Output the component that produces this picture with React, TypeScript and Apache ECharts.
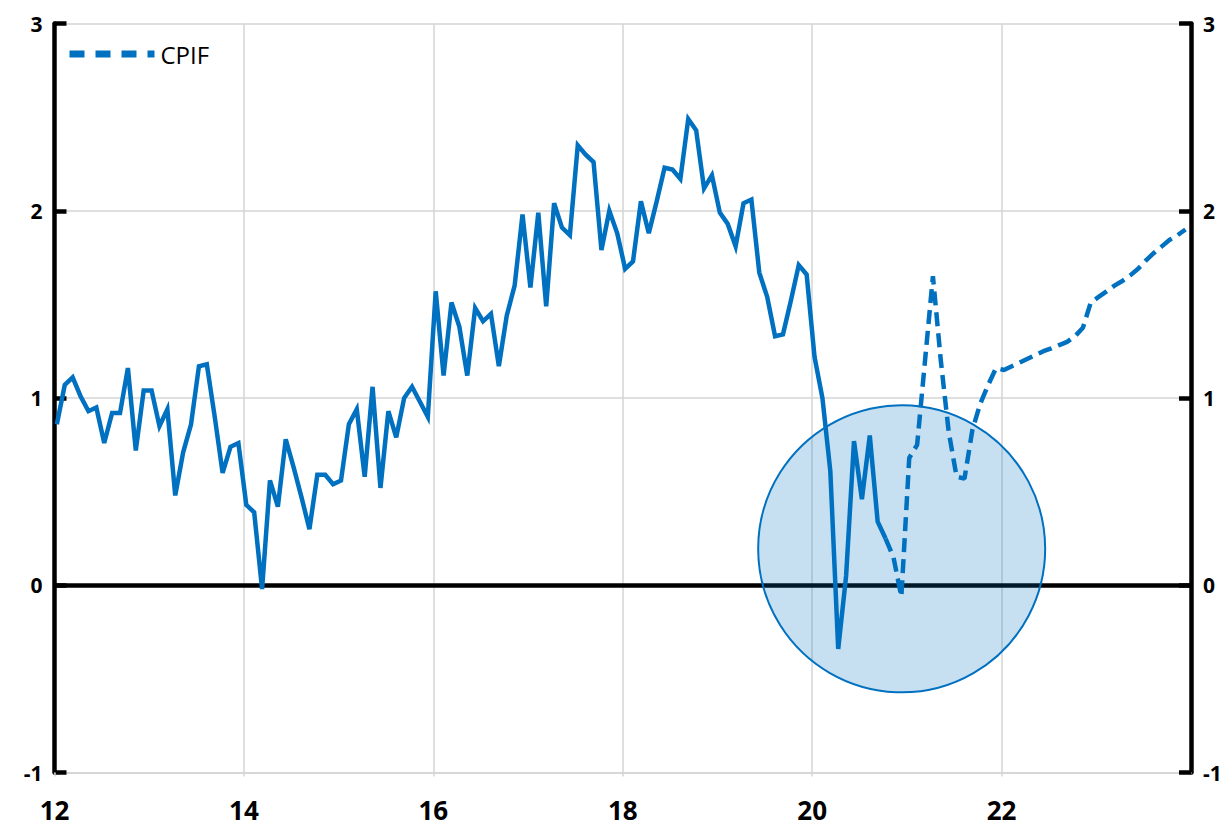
import { useEffect, useRef } from "react";
import * as echarts from "echarts";

// Two-digit year where the x axis starts (2012) and where a monthly observation sits within its month
const FIRST_YEAR = 12;
const MONTH_POS = 0.3;

// CPIF outcome, monthly, Jan 2012 - Oct 2020 (annual % change)
const cpif2012 = [0.86, 1.07, 1.11, 1.01, 0.93, 0.95, 0.76, 0.92, 0.92, 1.16, 0.72, 1.04];
const cpif2013 = [1.04, 0.85, 0.94, 0.48, 0.71, 0.86, 1.17, 1.18, 0.9, 0.6, 0.74, 0.76];
const cpif2014 = [0.43, 0.39, -0.02, 0.56, 0.42, 0.78, 0.63, 0.47, 0.3, 0.59, 0.59, 0.54];
const cpif2015 = [0.56, 0.86, 0.94, 0.58, 1.06, 0.52, 0.93, 0.79, 1.0, 1.06, 0.98, 0.9];
const cpif2016 = [1.57, 1.12, 1.51, 1.38, 1.12, 1.48, 1.41, 1.45, 1.17, 1.44, 1.6, 1.98];
const cpif2017 = [1.59, 1.99, 1.49, 2.04, 1.91, 1.87, 2.35, 2.3, 2.26, 1.79, 2.0, 1.88];
const cpif2018 = [1.69, 1.73, 2.05, 1.88, 2.05, 2.23, 2.22, 2.17, 2.49, 2.43, 2.12, 2.19];
const cpif2019 = [1.99, 1.93, 1.81, 2.04, 2.06, 1.67, 1.54, 1.33, 1.34, 1.52, 1.71, 1.66];
const cpif2020 = [1.22, 1.0, 0.61, -0.34, 0.05, 0.77, 0.46, 0.8, 0.34, 0.25];

// CPIF forecast, monthly, Oct 2020 - Dec 2023
const forecast2020 = [0.25, 0.15, -0.06];
const forecast2021 = [0.68, 0.75, 1.2, 1.65, 1.2, 0.82, 0.58, 0.57, 0.83, 0.97, 1.07, 1.16];
const forecast2022 = [1.15, 1.17, 1.19, 1.21, 1.23, 1.25, 1.265, 1.283, 1.3, 1.33, 1.375, 1.51];
const forecast2023 = [1.54, 1.57, 1.6, 1.625, 1.655, 1.69, 1.735, 1.775, 1.81, 1.845, 1.87, 1.9];
const FORECAST_START_MONTH = 105; // Oct 2020, months after Jan 2012

// Highlighted region (centre in axis units)
const highlightCenter = [20.945, 0.195];

const xMin = 12;
const xMax = 24;
const xStep = 2;
const yMin = -1;
const yMax = 3;
const yStep = 1;

const FONT = "'Open Sans', 'Liberation Sans', sans-serif";
const BLUE = "#0070C0";
const GRID_GREY = "#d4d4d4";

function monthX(i: number) {
  return FIRST_YEAR + (i + MONTH_POS) / 12;
}

export default function App() {
  const ref = useRef<HTMLDivElement | null>(null);

  useEffect(() => {
    if (!ref.current) return;
    const chart = echarts.init(ref.current, undefined, { renderer: "svg" });

    const outcome = [
      ...cpif2012, ...cpif2013, ...cpif2014, ...cpif2015, ...cpif2016,
      ...cpif2017, ...cpif2018, ...cpif2019, ...cpif2020,
    ].map((v, i) => [monthX(i), v]);
    const forecast = [...forecast2020, ...forecast2021, ...forecast2022, ...forecast2023].map(
      (v, i) => [monthX(FORECAST_START_MONTH + i), v]
    );

    const yAxisBase = {
      type: "value",
      min: yMin,
      max: yMax,
      interval: yStep,
      axisLine: { show: true, onZero: false, lineStyle: { color: "#000", width: 4.5 } },
      axisTick: { show: true, inside: true, length: 12, lineStyle: { color: "#000", width: 4.5 } },
      axisLabel: { fontSize: 21, fontWeight: "bold", color: "#000", margin: 12, fontFamily: FONT },
    };

    chart.setOption({
      animation: false,
      backgroundColor: "#fff",
      textStyle: { fontFamily: FONT },
      grid: { left: 54.5, right: 38, top: 23.5, bottom: 54.4, containLabel: false },
      legend: {
        data: ["CPIF"],
        left: 61,
        top: 37,
        itemWidth: 85,
        itemHeight: 14,
        itemStyle: { opacity: 0 },
        textStyle: { fontSize: 24, color: "#000", fontFamily: FONT, padding: [0, 0, 0, 1] },
        lineStyle: { width: 7, type: [15, 11], cap: "butt" },
      },
      xAxis: {
        type: "value",
        min: xMin,
        max: xMax,
        interval: xStep,
        axisLine: { show: true, onZero: false, lineStyle: { color: GRID_GREY, width: 1.5 } },
        axisTick: { show: true, length: 4, lineStyle: { color: GRID_GREY, width: 1.5 } },
        axisLabel: {
          showMaxLabel: false,
          fontSize: 26,
          fontWeight: "bold",
          color: "#000",
          margin: 24,
          fontFamily: FONT,
        },
        splitLine: { show: true, lineStyle: { color: GRID_GREY, width: 1.5 } },
      },
      yAxis: [
        {
          ...yAxisBase,
          position: "left",
          splitLine: { show: true, lineStyle: { color: GRID_GREY, width: 1.5 } },
        },
        { ...yAxisBase, position: "right", splitLine: { show: false } },
      ],
      series: [
        {
          type: "scatter",
          name: "highlight",
          data: [highlightCenter],
          symbol: "circle",
          symbolSize: 287,
          silent: true,
          z: 2,
          itemStyle: { color: "rgba(0,112,192,0.22)", borderColor: BLUE, borderWidth: 2, opacity: 1 },
        },
        {
          type: "line",
          name: "CPIF outcome",
          data: outcome,
          symbol: "none",
          showSymbol: false,
          z: 3,
          lineStyle: { color: BLUE, width: 4.5, join: "miter" },
          itemStyle: { color: BLUE },
          markLine: {
            silent: true,
            symbol: "none",
            z: 1,
            label: { show: false },
            lineStyle: { color: "#000", width: 4.5, type: "solid" },
            data: [{ yAxis: 0 }],
          },
        },
        {
          type: "line",
          name: "CPIF",
          data: forecast,
          symbol: "none",
          showSymbol: false,
          z: 3,
          lineStyle: { color: BLUE, width: 4.5, type: [14, 7] },
          itemStyle: { color: BLUE },
        },
      ],
    });

    return () => chart.dispose();
  }, []);

  return (
    <div
      ref={ref}
      style={{ position: "fixed", left: 0, top: 0, width: 1229, height: 827, background: "#fff" }}
    />
  );
}
